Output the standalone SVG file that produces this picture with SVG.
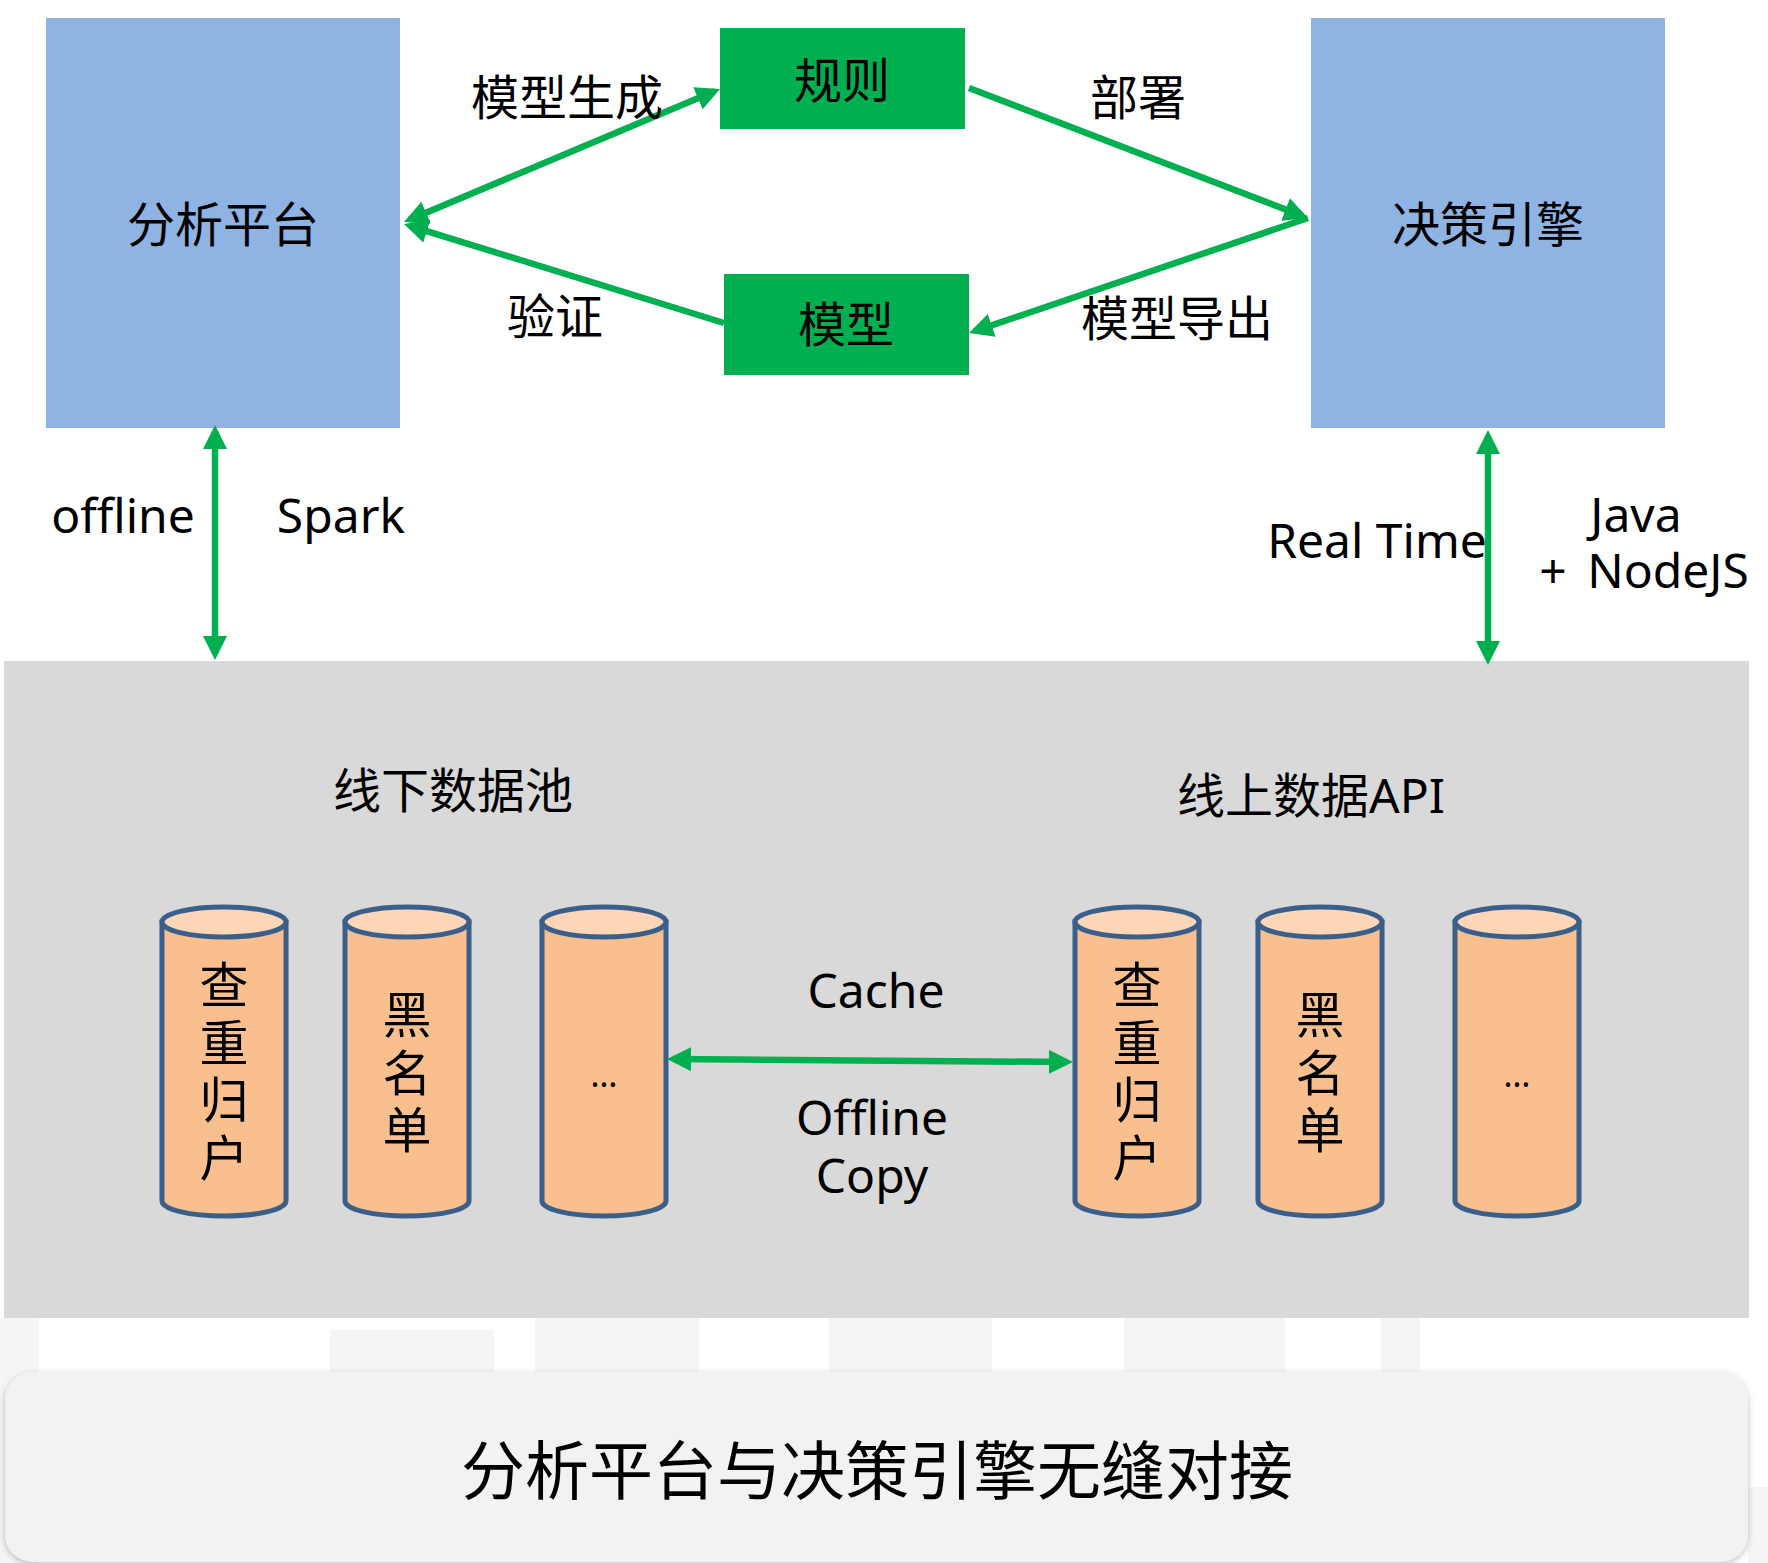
<svg xmlns="http://www.w3.org/2000/svg" width="1768" height="1563" viewBox="0 0 1768 1563">
  <style>
    .cjk { font-family: "Noto Sans", "Noto Sans CJK SC", sans-serif; fill: #000; }
    .lbl { font-size: 48px; text-anchor: middle; }
    .vert { font-family: "Noto Sans CJK SC", sans-serif; font-size: 49px; writing-mode: vertical-rl; letter-spacing: 8.5px; fill: #000; }
    .blue { fill: #8FB4E3; }
    .green { fill: #00B050; }
    .conn { stroke: #00B050; stroke-width: 6.5; fill: none; }
    .cyl-body { fill: #F9BF8F; stroke: #3A5F8B; stroke-width: 5; }
    .cyl-top { fill: #FCD6B6; stroke: #3A5F8B; stroke-width: 5; }
    .faint { fill: #F4F5F7; }
  </style>
  <defs>
    <marker id="arrow" viewBox="0 0 24 24" refX="18" refY="12" markerWidth="24" markerHeight="24" markerUnits="userSpaceOnUse" orient="auto-start-reverse">
      <path d="M0,0 L24,12 L0,24 Z" fill="#00B050"/>
    </marker>
    <filter id="softShadow" x="-5%" y="-20%" width="110%" height="140%">
      <feDropShadow dx="0" dy="2" stdDeviation="3" flood-color="#000" flood-opacity="0.25"/>
    </filter>
  </defs>

  <rect width="1768" height="1563" fill="#FFFFFF"/>

  <!-- faint background columns below the data area -->
  <g id="backdrop">
    <rect class="faint" x="0" y="1318" width="39" height="245"/>
    <rect class="faint" x="330" y="1330" width="164" height="60"/>
    <rect class="faint" x="535" y="1318" width="164" height="60"/>
    <rect class="faint" x="829" y="1318" width="163" height="60"/>
    <rect class="faint" x="1124" y="1318" width="161" height="60"/>
    <rect class="faint" x="1381" y="1318" width="39" height="60"/>
    <rect class="faint" x="1748" y="1487" width="20" height="76"/>
  </g>

  <!-- data layer -->
  <g id="data-layer">
    <rect x="4" y="661" width="1745" height="657" fill="#D9D9D9"/>
    <text class="cjk lbl" x="453" y="808">线下数据池</text>
    <text class="cjk lbl" x="1311" y="813">线上数据API</text>
  </g>

  <g id="analysis-platform">
    <rect class="blue" x="46" y="18" width="354" height="410"/>
    <text class="cjk lbl" x="223" y="242">分析平台</text>
  </g>

  <g id="decision-engine">
    <rect class="blue" x="1311" y="18" width="354" height="410"/>
    <text class="cjk lbl" x="1488" y="242">决策引擎</text>
  </g>

  <g id="rules">
    <rect class="green" x="720" y="28" width="245" height="101"/>
    <text class="cjk lbl" x="842" y="98">规则</text>
  </g>

  <g id="model">
    <rect class="green" x="724" y="274" width="245" height="101"/>
    <text class="cjk lbl" x="846" y="342">模型</text>
  </g>

  <!-- offline store cylinders -->
  <g id="offline-dedup">
    <path class="cyl-body" d="M162,922 L162,1201 A62,15 0 0 0 286,1201 L286,922 Z"/>
    <ellipse class="cyl-top" cx="224" cy="922" rx="62" ry="15"/>
    <text class="vert" x="224" y="960">查重归户</text>
  </g>
  <g id="offline-blacklist">
    <path class="cyl-body" d="M345,922 L345,1201 A62,15 0 0 0 469,1201 L469,922 Z"/>
    <ellipse class="cyl-top" cx="407" cy="922" rx="62" ry="15"/>
    <text class="vert" x="407" y="990">黑名单</text>
  </g>
  <g id="offline-more">
    <path class="cyl-body" d="M542,922 L542,1201 A62,15 0 0 0 666,1201 L666,922 Z"/>
    <ellipse class="cyl-top" cx="604" cy="922" rx="62" ry="15"/>
    <text class="cjk" x="604" y="1087" font-size="34" text-anchor="middle">…</text>
  </g>

  <!-- online API cylinders -->
  <g id="online-dedup">
    <path class="cyl-body" d="M1075,922 L1075,1201 A62,15 0 0 0 1199,1201 L1199,922 Z"/>
    <ellipse class="cyl-top" cx="1137" cy="922" rx="62" ry="15"/>
    <text class="vert" x="1137" y="960">查重归户</text>
  </g>
  <g id="online-blacklist">
    <path class="cyl-body" d="M1258,922 L1258,1201 A62,15 0 0 0 1382,1201 L1382,922 Z"/>
    <ellipse class="cyl-top" cx="1320" cy="922" rx="62" ry="15"/>
    <text class="vert" x="1320" y="990">黑名单</text>
  </g>
  <g id="online-more">
    <path class="cyl-body" d="M1455,922 L1455,1201 A62,15 0 0 0 1579,1201 L1579,922 Z"/>
    <ellipse class="cyl-top" cx="1517" cy="922" rx="62" ry="15"/>
    <text class="cjk" x="1517" y="1087" font-size="34" text-anchor="middle">…</text>
  </g>

  <!-- connectors -->
  <g id="connectors">
    <line class="conn" x1="409.5" y1="219.7" x2="714.5" y2="91.3" marker-start="url(#arrow)" marker-end="url(#arrow)"/>
    <line class="conn" x1="724" y1="323" x2="409.7" y2="225.8" marker-end="url(#arrow)"/>
    <line class="conn" x1="969" y1="88" x2="1302.4" y2="215.9" marker-end="url(#arrow)"/>
    <line class="conn" x1="1308" y1="218" x2="974.7" y2="331.1" marker-end="url(#arrow)"/>
    <line class="conn" x1="215" y1="431" x2="215" y2="654" marker-start="url(#arrow)" marker-end="url(#arrow)"/>
    <line class="conn" x1="1488" y1="436" x2="1488" y2="659" marker-start="url(#arrow)" marker-end="url(#arrow)"/>
    <line class="conn" x1="673" y1="1059" x2="1067" y2="1062" marker-start="url(#arrow)" marker-end="url(#arrow)"/>
  </g>

  <!-- connector labels -->
  <g id="connector-labels">
    <text class="cjk lbl" x="567" y="115">模型生成</text>
    <text class="cjk lbl" x="555" y="334">验证</text>
    <text class="cjk lbl" x="1138" y="115">部署</text>
    <text class="cjk lbl" x="1177" y="336">模型导出</text>
    <text class="cjk lbl" x="123" y="533">offline</text>
    <text class="cjk lbl" x="341" y="533">Spark</text>
    <text class="cjk lbl" x="1377" y="558">Real Time</text>
    <text class="cjk lbl"><tspan x="1636" y="532">Java</tspan><tspan x="1644" y="588" word-spacing="8">+ NodeJS</tspan></text>
    <text class="cjk lbl" x="876" y="1008">Cache</text>
    <text class="cjk lbl"><tspan x="872" y="1135">Offline</tspan><tspan x="872" y="1193">Copy</tspan></text>
  </g>

  <!-- caption banner -->
  <g id="caption">
    <rect x="5" y="1372" width="1743" height="190" rx="28" ry="28" fill="#F2F2F2" filter="url(#softShadow)"/>
    <text class="cjk" x="877" y="1494" font-size="64" text-anchor="middle">分析平台与决策引擎无缝对接</text>
  </g>
</svg>
